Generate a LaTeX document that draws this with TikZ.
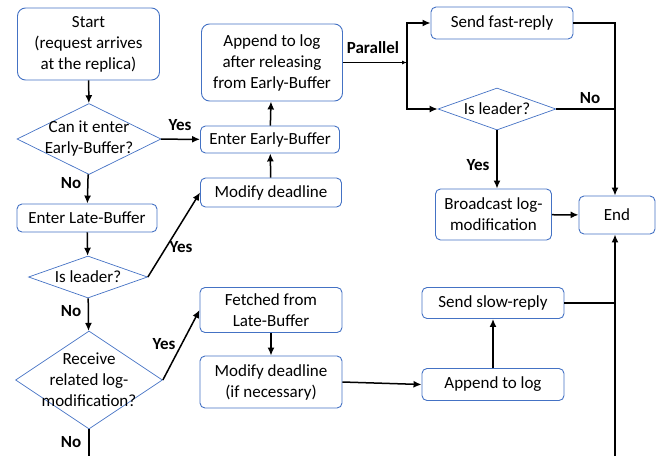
\documentclass[tikz,border=0pt]{standalone}
\usepackage{fontspec}
\setmainfont{Carlito}
\usetikzlibrary{shapes.geometric,arrows.meta}
\definecolor{boxblue}{RGB}{68,114,196}

\begin{document}
\begin{tikzpicture}[x=10pt, y=-10pt,
  every node/.style={font=\fontsize{17}{21}\selectfont, align=center},
  box/.style={draw=boxblue, line width=0.9pt, rounded corners=5pt, inner sep=0pt},
  cond/.style={draw=boxblue, line width=0.7pt, diamond, inner sep=0pt},
  arr/.style={line width=1.5pt, -{Latex[length=8pt,width=7pt]}},
  ln/.style={line width=1.5pt},
  lab/.style={font=\fontsize{17}{21}\selectfont\bfseries}]
\useasboundingbox (0,0) rectangle (67,45.6);

% left column
\node[box, minimum width=142pt, minimum height=72pt, rounded corners=8pt] (start) at (8.85, 4.4) {Start\\(request arrives\\at the replica)};
\node[cond, minimum width=144pt, minimum height=71pt, label=center:{Can it enter\\Early-Buffer?}] (canenter) at (8.9, 13.9) {};
\node[box, minimum width=140pt, minimum height=28pt] (late) at (8.7, 21.8) {Enter Late-Buffer};
\node[cond, minimum width=119pt, minimum height=42pt, label=center:{Is leader?}] (lead1) at (8.8, 27.7) {};
\node[cond, minimum width=147pt, minimum height=98pt, label=center:{Receive\\related log-\\modification?}] (recv) at (8.9, 38.0) {};

% middle column
\node[box, minimum width=141pt, minimum height=77pt, rounded corners=8pt] (append1) at (27.2, 6.25) {Append to log\\after releasing\\from Early-Buffer};
\node[box, minimum width=139pt, minimum height=27pt] (early) at (27.0, 13.95) {Enter Early-Buffer};
\node[box, minimum width=141pt, minimum height=29pt] (moddl) at (27.1, 19.25) {Modify deadline};
\node[box, minimum width=142pt, minimum height=45pt] (fetched) at (27.1, 31.0) {Fetched from\\Late-Buffer};
\node[box, minimum width=142pt, minimum height=52pt] (moddl2) at (27.1, 38.2) {Modify deadline\\(if necessary)};

% right column
\node[box, minimum width=142pt, minimum height=32pt] (fast) at (50.2, 2.3) {Send fast-reply};
\node[cond, minimum width=118pt, minimum height=42pt, label=center:{Is leader?}] (lead2) at (49.7, 10.9) {};
\node[box, minimum width=116pt, minimum height=51pt] (bcast) at (49.35, 21.45) {Broadcast log-\\modification};
\node[box, minimum width=76pt, minimum height=38pt] (endn) at (61.7, 21.5) {End};
\node[box, minimum width=142pt, minimum height=31pt] (slow) at (49.3, 30.3) {Send slow-reply};
\node[box, minimum width=142pt, minimum height=32pt] (appendlog) at (49.3, 38.45) {Append to log};

\coordinate (split) at (40.7, 6.25);
\coordinate (lbot) at (8.9, 45.6);
\coordinate (rbot) at (61.5, 45.6);

% labels
\node[lab] (yes1) at (18.0, 12.5) {Yes};
\node[lab] (no1) at (7.1, 18.3) {No};
\node[lab] (yes2) at (18.1, 24.7) {Yes};
\node[lab] (no2) at (7.1, 31.1) {No};
\node[lab] (yes3) at (16.4, 34.4) {Yes};
\node[lab] (no3) at (7.1, 44.2) {No};
\node[lab] (par) at (37.3, 4.8) {Parallel};
\node[lab] (no4) at (59.0, 9.8) {No};
\node[lab] (yes4) at (47.8, 16.5) {Yes};

% connectors
\draw[arr] (start) -- (canenter);
\draw[arr] (canenter) -- (early);
\draw[arr] (canenter) -- (late);
\draw[arr] (late) -- (lead1);
\draw[arr] (lead1.east) -- (moddl.west);
\draw[arr] (lead1) -- (recv);
\draw[arr] (recv.east) -- (fetched.west);
\draw[ln] (recv) -- (lbot);

\draw[arr] (moddl) -- (early);
\draw[arr] (early) -- (append1);
\draw[arr] (fetched) -- (moddl2);
\draw[arr] (moddl2.east) -- (appendlog.west);

\draw[line width=1.5pt, -{Latex[length=5pt,width=4pt]}] (append1) -- (split);
\draw[arr] (split) |- (fast);
\draw[arr] (split) |- (lead2);
\draw[arr] (fast.east) -| (endn.north -| rbot);
\draw[ln] (lead2.east) -- (lead2.east -| rbot);
\draw[arr] (lead2.south) -- (lead2.south |- bcast.north);
\draw[arr] (bcast) -- (endn);
\draw[arr] (appendlog) -- (slow);
\draw[ln] (slow.east) -- (slow.east -| rbot);
\draw[arr] (rbot) -- (rbot |- endn.south);
\end{tikzpicture}
\end{document}
